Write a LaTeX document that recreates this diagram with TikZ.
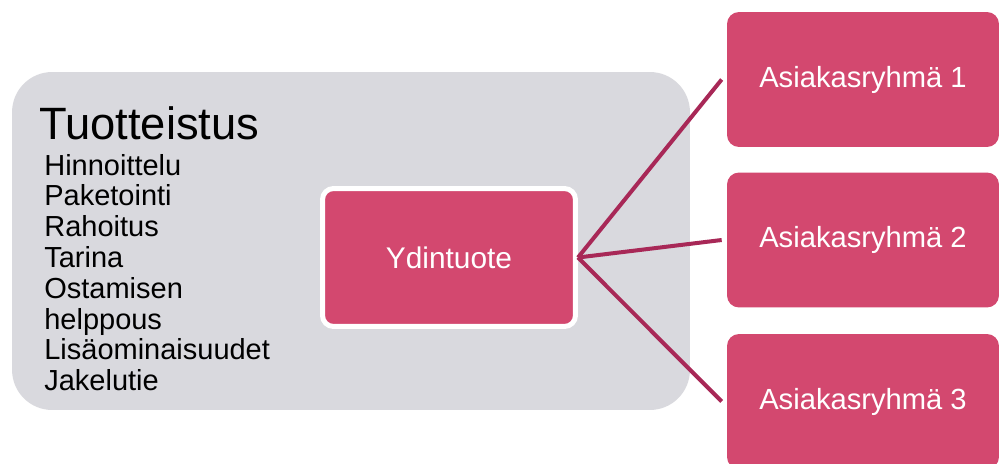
\documentclass[tikz,border=0pt]{standalone}
\usepackage{fontspec}
\setmainfont{Liberation Sans}
\definecolor{pinkbox}{HTML}{D3486F}
\definecolor{linkline}{HTML}{A82857}
\definecolor{panelgray}{HTML}{D9D9DE}
\begin{document}
\begin{tikzpicture}[x=0.02cm,y=-0.02cm,
  panelbox/.style={fill=panelgray,draw=none,rounded corners=0.8cm,inner sep=0pt,
    minimum width=13.56cm,minimum height=6.76cm},
  corebox/.style={fill=pinkbox,draw=white,line width=0.1cm,rounded corners=0.22cm,
    minimum width=5.06cm,minimum height=2.76cm,text=white,
    font=\fontsize{17}{20}\selectfont},
  groupbox/.style={fill=pinkbox,draw=none,rounded corners=0.24cm,
    minimum width=5.44cm,minimum height=2.7cm,text=white,
    font=\fontsize{16.6}{20}\selectfont},
  link/.style={draw=linkline,line width=0.08cm},
  listitem/.style={anchor=base west,inner sep=0pt,font=\fontsize{16.5}{19}\selectfont}]
\useasboundingbox (0,0) rectangle (1000,463);
\clip (0,0) rectangle (1000,463);

% grey product panel with its list
\node[panelbox] (panel) at (351,241) {};
\node[anchor=base west,inner sep=0pt,font=\fontsize{25.8}{30}\selectfont] (title) at (39,139) {Tuotteistus};
\foreach \t [count=\i from 0] in {Hinnoittelu,Paketointi,Rahoitus,Tarina,Ostamisen,helppous,Lisäominaisuudet,Jakelutie}
  \node[listitem] (item\i) at (44,175+30.8*\i) {\t};

% core product and customer groups
\node[corebox] (core) at (449,257.5) {Ydintuote};
\node[groupbox] (g1) at (863,79.5) {Asiakasryhmä 1};
\node[groupbox] (g2) at (863,240) {Asiakasryhmä 2};
\node[groupbox] (g3) at (863,401.5) {Asiakasryhmä 3};

% connectors
\draw[link] (core.east) -- ([xshift=-0.1cm]g1.west);
\draw[link] (core.east) -- ([xshift=-0.1cm]g2.west);
\draw[link] (core.east) -- ([xshift=-0.1cm]g3.west);
\end{tikzpicture}
\end{document}
